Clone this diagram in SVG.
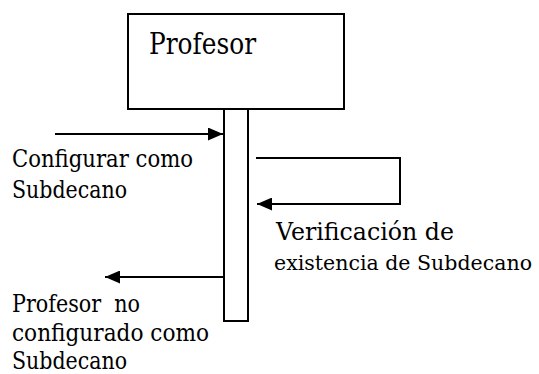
<svg xmlns="http://www.w3.org/2000/svg" width="539" height="374" viewBox="0 0 539 374">
<style>
.box{fill:#fff;stroke:#000;stroke-width:2}
.ln{fill:none;stroke:#000;stroke-width:2}
text{fill:#000}
</style>
<defs>
<marker id="ah" markerWidth="15" markerHeight="13" refX="15" refY="6.5" orient="auto" markerUnits="userSpaceOnUse">
<path d="M0,0 L15,6.5 L0,13 Z" fill="#000"/>
</marker>
</defs>
<rect width="539" height="374" fill="#fff"/>
<g id="profesor">
<rect class="box" x="128" y="14" width="216" height="95"/>
<text x="149" y="54" font-family="'DejaVu Serif', serif" font-size="29" textLength="107" lengthAdjust="spacingAndGlyphs">Profesor</text>
</g>
<g id="lifeline">
<rect class="box" x="224" y="109" width="24" height="212"/>
</g>
<g id="connectors">
<line class="ln" x1="55" y1="134" x2="223" y2="134" marker-end="url(#ah)"/>
<polyline class="ln" points="256,158 400,158 400,204 257,204" marker-end="url(#ah)"/>
<line class="ln" x1="224" y1="277" x2="105" y2="277" marker-end="url(#ah)"/>
</g>
<g id="labels" font-family="'DejaVu Serif', serif" font-size="23.5">
<text x="12" y="167" textLength="181" lengthAdjust="spacingAndGlyphs">Configurar como</text>
<text x="12" y="198" textLength="115" lengthAdjust="spacingAndGlyphs">Subdecano</text>
<text x="276" y="240" textLength="178" lengthAdjust="spacingAndGlyphs">Verificación de</text>
<text x="274" y="270" font-size="21" textLength="258" lengthAdjust="spacingAndGlyphs">existencia de Subdecano</text>
<text x="12" y="312" xml:space="preserve" textLength="128" lengthAdjust="spacingAndGlyphs">Profesor  no</text>
<text x="12" y="341" textLength="197" lengthAdjust="spacingAndGlyphs">configurado como</text>
<text x="12" y="369" textLength="115" lengthAdjust="spacingAndGlyphs">Subdecano</text>
</g>
</svg>
